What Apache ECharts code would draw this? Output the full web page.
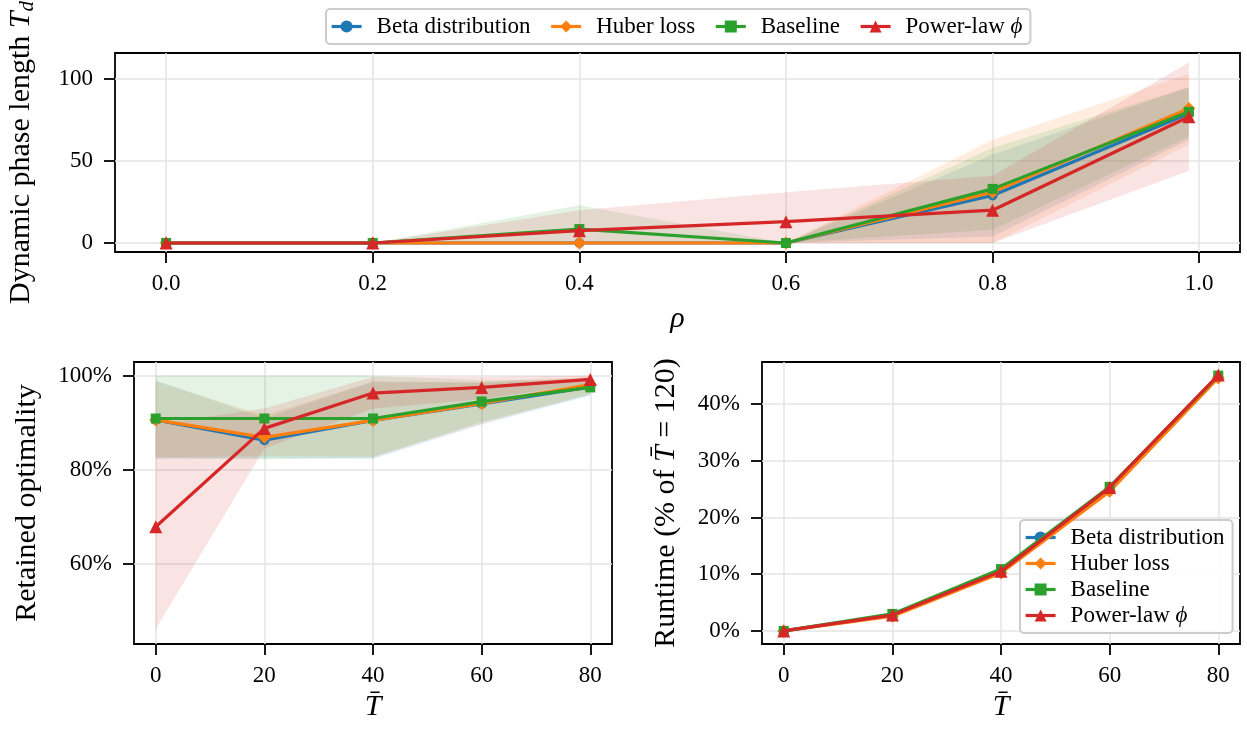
<!DOCTYPE html>
<html>
<head>
<meta charset="utf-8">
<script src="https://cdn.jsdelivr.net/npm/echarts@6/dist/echarts.min.js"></script>
<style>
  html, body { margin: 0; padding: 0; background: #fff; }
  #main { width: 1247px; height: 729px; }
</style>
</head>
<body>
<div id="main"></div>
<script>
var FONT = '"Liberation Serif", "DejaVu Serif", serif'

// method names and colours
var methods = ['Beta distribution', 'Huber loss', 'Baseline', 'Power-law \u03d5']
var colors = ['#1f77b4', '#ff7f0e', '#2ca02c', '#d62728']
var symbols = ['circle', 'diamond', 'rect', 'triangle']
var symbolSizes = [10, 13, 10, 13]

// top: dynamic phase length vs rho
var rhoVals = [0, 0.2, 0.4, 0.6, 0.8, 0.99]
var rhoTicks = [0, 0.2, 0.4, 0.6, 0.8, 1.0]
var tdTicks = [0, 50, 100]
var tdMean = [
    [0, 0, 0, 0, 29, 79],
    [0, 0, 0, 0, 31, 82],
    [0, 0, 8.5, 0, 33, 80],
    [0, 0, 7.5, 13, 20, 77]
]
var tdLo = [
    [0, 0, 0, 0, 4, 63],
    [0, 0, 0, 0, 0, 60],
    [0, 0, 0, 0, 8, 65],
    [0, 0, 0, 0, 0, 44]
]
var tdHi = [
    [0, 0, 0, 0, 54, 95],
    [0, 0, 0, 0, 63, 103],
    [0, 0, 23, 0, 58, 95],
    [0, 0, 20, 31, 41, 110]
]

// bottom left: retained optimality vs T bar
var tbarVals = [0, 20, 40, 60, 80]
var tbarTicks = [0, 20, 40, 60, 80]
var optTicks = [60, 80, 100]
var optMean = [
    [90.6, 86.3, 90.5, 94.0, 97.6],
    [90.6, 86.9, 90.5, 94.1, 98.1],
    [90.9, 90.9, 90.9, 94.5, 97.5],
    [67.9, 88.8, 96.3, 97.5, 99.2]
]
var optLo = [
    [82.3, 82.5, 82.3, 89.6, 95.8],
    [82.6, 83.0, 82.8, 89.8, 96.2],
    [82.6, 82.2, 82.6, 90.2, 95.9],
    [46.2, 84.5, 93.0, 95.0, 98.4]
]
var optHi = [
    [99.0, 91.0, 98.8, 98.5, 99.4],
    [98.7, 91.6, 98.6, 98.6, 99.8],
    [100, 100, 100, 99.0, 99.3],
    [89.6, 93.0, 99.7, 99.7, 100]
]

// bottom right: runtime share vs T bar
var rtTicks = [0, 10, 20, 30, 40]
var rtMean = [
    [0, 2.8, 10.6, 25.0, 44.8],
    [0, 2.6, 10.2, 24.6, 44.6],
    [0, 3.0, 10.9, 25.4, 45.0],
    [0, 2.8, 10.5, 25.3, 45.1]
]

var myChart = echarts.init(document.getElementById('main'))

function pairs(xs, ys) {
    return xs.map(function (x, i) { return [x, ys[i]] })
}

// shaded band between lo and hi, drawn as one polygon through the axis scales
function bandSeries(m, idx, xs, lo, hi) {
    return {
        type: 'custom', xAxisIndex: idx, yAxisIndex: idx, silent: true, z: 1,
        data: xs.map(function (x, i) { return [x, lo[i], hi[i]] }),
        encode: { x: 0, y: [1, 2] },
        renderItem: function (params, api) {
            if (params.dataIndex !== 0) return null
            var pts = []
            for (var i = 0; i < xs.length; i++) pts.push(api.coord([xs[i], hi[i]]))
            for (var j = xs.length - 1; j >= 0; j--) pts.push(api.coord([xs[j], lo[j]]))
            return {
                type: 'polygon',
                shape: { points: pts },
                style: { fill: colors[m], opacity: 0.13 }
            }
        }
    }
}

function lineSeries(m, idx, xs, ys) {
    return {
        name: methods[m], type: 'line', xAxisIndex: idx, yAxisIndex: idx,
        data: pairs(xs, ys),
        symbol: symbols[m], symbolSize: symbolSizes[m], showSymbol: true,
        lineStyle: { width: 3.2, color: colors[m] },
        itemStyle: { color: colors[m] },
        z: 3 + m
    }
}

var series = []
for (var m = 0; m < 4; m++) {
    series.push(bandSeries(m, 0, rhoVals, tdLo[m], tdHi[m]))
    series.push(lineSeries(m, 0, rhoVals, tdMean[m]))
    series.push(bandSeries(m, 1, tbarVals, optLo[m], optHi[m]))
    series.push(lineSeries(m, 1, tbarVals, optMean[m]))
    series.push(lineSeries(m, 2, tbarVals, rtMean[m]))
}

var gridStyle = { show: true, borderColor: '#000', borderWidth: 1.8, backgroundColor: 'transparent', outerBoundsMode: 'none' }

function valueAxis(idx, min, max, ticks, fmt, isY, name, nameGap) {
    return {
        type: 'value', gridIndex: idx, min: min, max: max,
        axisLine: { show: false, onZero: false },
        axisTick: { show: true, customValues: ticks, length: 11, lineStyle: { color: '#000', width: 1.8 } },
        axisLabel: { customValues: ticks, formatter: fmt, color: '#000', fontSize: 23, fontFamily: FONT, margin: isY ? 22 : 20 },
        splitLine: { show: true, lineStyle: { color: '#e4e4e4', width: 1.5 } },
        name: name, nameLocation: 'middle', nameGap: nameGap, nameRotate: isY ? 90 : 0,
        nameTextStyle: {
            color: '#000', fontSize: 30, fontFamily: FONT,
            rich: {
                n: { fontSize: 30, fontFamily: FONT, color: '#000' },
                i: { fontSize: 30, fontFamily: FONT, fontStyle: 'italic', color: '#000' },
                s: { fontSize: 21, fontFamily: FONT, fontStyle: 'italic', color: '#000', padding: [12, 0, 0, 0] }
            }
        }
    }
}

var pct = function (v) { return v + '%' }
var TBAR = 'T\u0304'

var legendText = {
    color: '#000', fontSize: 23, fontFamily: FONT, padding: [0, 0, 0, 10],
    rich: {
        n: { fontSize: 23, fontFamily: FONT, color: '#000' },
        i: { fontSize: 23, fontFamily: FONT, fontStyle: 'italic', color: '#000' }
    }
}
function legendFmt(name) {
    if (name === methods[3]) return '{n|Power-law }{i|\u03d5}'
    return '{n|' + name + '}'
}

var legendBase = {
    data: methods,
    itemWidth: 30, itemHeight: 15,
    padding: [6, 8, 6, 4],
    borderColor: '#cccccc', borderWidth: 2, borderRadius: 4,
    backgroundColor: 'rgba(255,255,255,0.85)',
    lineStyle: { width: 3.2 },
    textStyle: legendText, formatter: legendFmt
}

var option = {
    animation: false,
    backgroundColor: '#fff',
    grid: [
        Object.assign({ left: 115, top: 53, width: 1125, height: 199 }, gridStyle),
        Object.assign({ left: 134, top: 362, width: 478, height: 282 }, gridStyle),
        Object.assign({ left: 762, top: 362, width: 478, height: 282 }, gridStyle)
    ],
    xAxis: [
        valueAxis(0, -0.0495, 1.0395, rhoTicks, function (v) { return v.toFixed(1) }, false, '{i|\u03c1}', 52),
        valueAxis(1, -4, 84, tbarTicks, null, false, '{i|' + TBAR + '}', 48),
        valueAxis(2, -4, 84, tbarTicks, null, false, '{i|' + TBAR + '}', 48)
    ],
    yAxis: [
        valueAxis(0, -5.5, 115.85, tdTicks, null, true, '{n|Dynamic phase length }{i|T}{s|d}', 77),
        valueAxis(1, 43.0, 102.9, optTicks, pct, true, '{n|Retained optimality}', 92),
        valueAxis(2, -2.3, 47.4, rtTicks, pct, true, '{n|Runtime (% of }{i|' + TBAR + '}{n| = 120)}', 81)
    ],
    legend: [
        Object.assign({ orient: 'horizontal', left: 326, top: 9, itemGap: 19 }, legendBase),
        Object.assign({ orient: 'vertical', left: 1020, top: 520, itemGap: 3 }, legendBase)
    ],
    series: series
}
option && myChart.setOption(option)
</script>
</body>
</html>
